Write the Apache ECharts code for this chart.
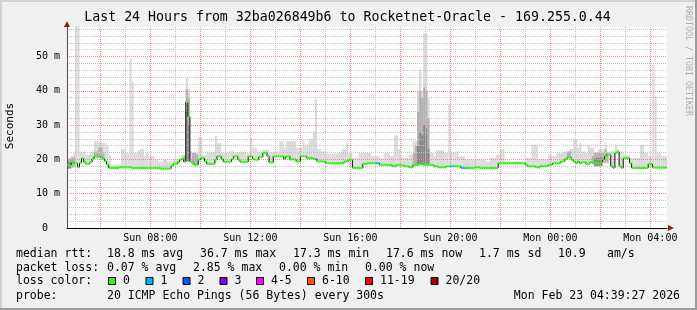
<!DOCTYPE html>
<html><head><meta charset="utf-8">
<script src="https://cdn.jsdelivr.net/npm/echarts@6/dist/echarts.min.js"></script>
<style>html,body{margin:0;padding:0;background:#f0f0f0}#c{width:697px;height:310px}</style>
</head><body><div id="c"></div>
<script>
// ---------------- data ----------------
const titleText = 'Last 24 Hours from 32ba026849b6 to Rocketnet-Oracle - 169.255.0.44';
const yAxisTitle = 'Seconds';
const startMinutes = 4 * 60 + 40;      // Sun 04:40
const stepMinutes = 5;                 // 300 s
const sampleCount = 288;
const xTickLabels = ['Sun 08:00', 'Sun 12:00', 'Sun 16:00', 'Sun 20:00', 'Mon 00:00', 'Mon 04:00'];
const yMax = 58.6;

// median rtt (ms) per 5-minute sample
const median = [
 18.4,18.3,19.3,18.9,18.9,17.7,19.0,20.3,19.2,18.7,
 18.7,19.2,20.1,20.9,20.9,20.9,20.6,20.2,19.5,18.5,
 17.5,17.5,17.5,17.5,17.5,17.7,17.7,17.7,17.7,17.7,
 17.7,17.5,17.5,17.5,17.5,17.5,17.5,17.5,17.5,17.5,
 17.5,17.5,17.5,17.5,17.5,17.3,17.3,17.3,17.3,17.3,
 18.2,18.7,18.7,19.2,19.9,20.2,19.3,36.7,32.5,19.4,
 18.9,18.4,18.4,19.9,20.4,20.4,19.4,18.7,18.7,18.7,
 18.7,19.9,20.9,20.9,20.1,19.3,19.3,19.3,19.3,20.1,
 20.9,20.9,19.9,19.3,19.3,19.3,19.3,20.9,20.9,20.1,
 19.9,19.9,20.7,20.7,21.9,21.9,20.9,19.1,19.1,20.9,
 20.9,20.9,20.9,20.9,20.1,20.9,20.9,20.0,20.0,20.0,
 19.4,19.4,20.9,20.9,20.9,20.4,20.4,20.4,20.1,20.1,
 19.4,19.4,19.4,19.4,18.9,18.9,18.9,18.9,18.9,18.9,
 18.9,18.9,18.9,19.4,19.4,19.9,19.9,17.5,17.5,17.5,
 17.5,17.5,18.7,18.7,18.9,18.9,18.9,18.9,18.9,18.9,
 18.4,18.4,18.4,18.4,18.4,18.4,18.0,18.0,18.4,18.4,
 18.2,18.2,18.0,18.0,17.7,17.7,18.4,18.4,18.4,18.6,
 18.6,18.4,18.4,18.4,18.4,18.4,18.0,18.0,17.7,17.7,
 17.7,17.7,18.0,18.0,18.0,18.0,18.0,18.0,18.0,17.5,
 17.5,17.5,17.5,17.5,17.5,17.5,17.7,17.7,17.5,17.5,
 17.5,17.5,17.5,17.5,17.5,17.5,17.5,18.9,18.9,18.9,
 18.9,18.9,18.9,18.9,18.9,18.9,18.9,18.9,18.9,18.9,
 18.4,18.0,18.0,18.0,18.0,17.7,17.7,18.0,18.0,18.0,
 18.0,18.4,18.4,18.9,18.9,18.9,18.9,19.4,19.4,20.1,
 20.6,20.6,19.9,19.4,18.9,19.4,18.9,19.2,19.2,18.7,
 18.7,19.2,19.2,18.9,18.9,18.9,19.2,19.9,20.9,21.4,
 21.4,18.0,17.5,21.9,22.2,18.0,17.5,20.4,20.4,20.4,
 18.9,17.5,17.5,17.5,17.5,17.5,17.5,17.5,17.5,18.7,
 18.7,17.6,17.6,17.6,17.6,17.6,17.6,17.6
];

// top of the light smoke (ms) per sample
const smokeHi = [
 20.5,20.5,21.0,22.0,58.7,58.7,22.3,22.3,22.3,21.4,
 21.4,22.3,22.3,25.3,25.3,25.0,25.0,24.8,24.8,24.0,
 21.4,18.5,18.5,18.5,18.5,18.5,23.0,23.0,21.9,21.9,
 49.3,42.8,21.9,21.9,22.6,23.0,23.0,20.9,22.3,20.9,
 20.9,20.9,19.9,19.9,19.4,19.4,19.9,19.9,19.4,19.4,
 19.4,20.2,20.2,20.2,20.2,21.4,21.4,43.8,40.5,22.3,
 21.9,21.9,21.9,26.5,26.5,21.4,21.4,22.3,22.3,22.3,
 22.3,26.9,24.8,24.8,22.0,22.0,22.0,22.0,22.6,22.6,
 21.9,21.9,21.9,22.3,22.3,22.3,21.9,21.9,26.3,23.4,
 23.4,22.3,22.3,22.3,22.8,22.8,22.8,22.1,22.1,22.1,
 22.3,22.3,25.3,25.3,23.4,25.3,25.3,25.3,25.3,25.3,
 23.4,23.4,23.4,25.3,24.3,24.3,26.0,26.0,28.3,37.6,
 23.0,23.0,22.3,22.3,21.7,21.7,21.7,21.7,21.7,21.7,
 21.9,21.9,23.0,23.0,24.8,21.9,21.9,20.4,20.4,20.4,
 21.9,21.9,21.9,21.9,21.9,21.9,20.9,20.9,20.9,20.9,
 20.4,20.4,21.9,21.9,21.9,20.9,20.9,27.0,27.0,23.0,
 20.4,20.4,20.4,20.4,21.4,21.4,25.3,25.3,40.0,46.1,
 40.0,56.8,56.8,38.0,21.9,21.9,20.9,22.6,22.6,22.6,
 22.6,21.9,21.9,36.2,22.3,22.3,22.3,22.3,20.9,20.9,
 20.9,19.9,19.9,19.9,19.9,19.9,19.9,19.9,19.9,19.9,
 19.9,19.4,19.4,20.4,20.4,20.4,21.4,21.4,23.0,23.0,
 19.4,19.4,19.4,19.4,19.4,19.4,19.4,19.4,19.4,19.4,
 20.4,20.4,20.4,24.3,24.3,24.3,20.0,20.0,20.0,20.0,
 20.0,21.4,21.4,20.9,20.9,21.9,21.9,21.9,22.3,22.3,
 22.3,23.0,23.0,26.0,26.0,23.4,24.8,22.3,22.3,21.9,
 24.3,23.4,23.4,21.9,21.9,23.0,23.0,23.0,24.8,22.3,
 22.3,22.5,22.5,24.3,23.0,22.3,22.3,21.4,21.4,21.4,
 20.4,20.4,20.4,20.4,20.4,24.3,24.3,21.9,21.9,20.9,
 20.9,47.6,38.4,21.9,21.9,20.9,20.9,20.9
];

// denser smoke: [sample, low, high]
const midSmoke = [
 [0,17.2,20.0],[1,17.2,20.0],[2,17.5,20.5],[3,17.8,20.5],
 [13,20.5,22.3],[14,20.5,22.3],[15,20.5,23.5],[16,20.5,23.5],[17,20.0,22.0],
 [56,19.3,21.0],[57,19.3,40.5],[58,19.3,38.0],
 [60,18.5,21.9],[61,18.3,21.9],[62,18.3,21.5],
 [166,18.4,22.0],[167,18.4,24.0],[168,18.4,34.0],[169,18.5,40.0],[170,18.5,38.0],
 [171,18.4,41.0],[172,18.4,40.0],[173,18.4,32.0],
 [240,20.5,22.3],[241,20.5,22.3],
 [252,18.5,21.0],[253,18.5,22.0],[254,18.5,22.0],[255,18.5,22.0],[256,18.5,22.0],
 [257,19.0,22.0],[258,19.0,23.0],[259,19.0,22.0]
];
const darkSmoke = [
 [0,17.3,19.3],[1,17.5,19.0],
 [57,19.5,34.0],[58,19.5,30.0],
 [168,18.6,24.0],[169,18.6,28.0],[170,18.6,27.0],[171,18.6,30.0],[172,18.6,29.0],[173,18.6,23.0],
 [253,18.0,20.3],[254,18.0,20.5],[255,18.0,20.5],[256,18.0,20.5]
];

// samples with 1/20 packet loss (others 0)
const lossOneSamples = [119,148,149,184,185,189,190];

const lossLegendLabels = ['0', '1', '2', '3', '4-5', '6-10', '11-19', '20/20'];
const lossLegendColors = ['#26ff00', '#00b8ff', '#0059ff', '#7e00ff', '#ff00ff', '#ff5500', '#ff0000', '#a10000'];

const rttStats = ['18.8 ms avg', '36.7 ms max', '17.3 ms min', '17.6 ms now', '1.7 ms sd', '10.9', 'am/s'];
const lossStats = ['0.07 % avg', '2.85 % max', '0.00 % min', '0.00 % now'];
const probeText = '20 ICMP Echo Pings (56 Bytes) every 300s';
const stampText = 'Mon Feb 23 04:39:27 2026';

// ---------------- chart ----------------
const mono = '"DejaVu Sans Mono", monospace';
const categories = [];
for (let k = 0; k <= sampleCount; k++) {
  const m = startMinutes + k * stepMinutes;
  const day = m >= 1440 ? 'Mon' : 'Sun';
  const mm = m % 1440;
  categories.push(day + ' ' + String(Math.floor(mm / 60)).padStart(2, '0') + ':' + String(mm % 60).padStart(2, '0'));
}
const minuteOf = i => startMinutes + i * stepMinutes;
const isEvenHour = i => minuteOf(i) % 120 === 0;
const isOddHour = i => minuteOf(i) % 60 === 0 && minuteOf(i) % 120 !== 0;

const RED = '#ea9090';
const GRAY = '#c4c4c4';

function bandRenderer(color) {
  return function (params, api) {
    const i = api.value(0);
    const top = api.coord([i, api.value(2)]);
    const bot = api.coord([i, api.value(1)]);
    const nxt = api.coord([i + 1, api.value(1)]);
    return { type: 'rect', shape: { x: top[0], y: top[1], width: nxt[0] - top[0], height: bot[1] - top[1] }, style: { fill: color } };
  };
}

const lightData = median.map((m, i) => [i, m, smokeHi[i]]);
const lineData = median.map((m, i) => [i, m, lossOneSamples.includes(i) ? 1 : 0, i + 1 < median.length ? median[i + 1] : m]);

const elements = [];
elements.push({ type: 'rect', shape: { x: 0, y: 0, width: 697, height: 2 }, style: { fill: '#d2d2d2' }, silent: true });
elements.push({ type: 'rect', shape: { x: 0, y: 0, width: 2, height: 310 }, style: { fill: '#d2d2d2' }, silent: true });
elements.push({ type: 'rect', shape: { x: 0, y: 308, width: 697, height: 2 }, style: { fill: '#9c9c9c' }, silent: true });
elements.push({ type: 'rect', shape: { x: 695, y: 0, width: 2, height: 310 }, style: { fill: '#9c9c9c' }, silent: true });
function txt(text, x, y, size, align, color) {
  return { type: 'text', x: x, y: y, silent: true, z: 10,
    style: { text: text, font: size + 'px ' + mono, fill: color || '#000', align: align || 'left', verticalAlign: 'middle', textAlign: align || 'left', textVerticalAlign: 'middle' } };
}
elements.push(txt(titleText, 347.5, 18, 13.25, 'center'));
const yTitle = txt(yAxisTitle, 10.5, 126, 11, 'center');
yTitle.rotation = Math.PI / 2;
elements.push(yTitle);
elements.push({ type: 'text', x: 688, y: 6, rotation: -Math.PI / 2, silent: true,
  style: { text: 'RRDTOOL / TOBI OETIKER', font: '8.3px ' + mono, fill: '#b0b0b0', align: 'left', verticalAlign: 'middle', textAlign: 'left', textVerticalAlign: 'middle' } });
// arrows
elements.push({ type: 'polygon', shape: { points: [[64, 27], [70, 27], [67, 21]] }, style: { fill: '#a01818' }, z: 10 });
elements.push({ type: 'polygon', shape: { points: [[668, 225], [668, 231], [674, 228]] }, style: { fill: '#a01818' }, z: 10 });
// legend text
const fs = 11.5;
const rowY = [254, 268, 281.5, 296];
elements.push(txt('median rtt:', 16, rowY[0], fs));
const rttX = [107, 200, 293, 386, 479, 558, 607];
rttStats.forEach((s, k) => elements.push(txt(s, rttX[k], rowY[0], fs)));
elements.push(txt('packet loss:', 16, rowY[1], fs));
const lossX = [107, 193, 279, 365];
lossStats.forEach((s, k) => elements.push(txt(s, lossX[k], rowY[1], fs)));
elements.push(txt('loss color:', 16, rowY[2], fs));
const boxX = [108, 145.5, 182.5, 219.5, 256, 307, 365, 430.5];
lossLegendLabels.forEach((lab, k) => {
  elements.push({ type: 'rect', shape: { x: boxX[k] + 0.5, y: 277.5, width: 7, height: 7 }, style: { fill: lossLegendColors[k], stroke: '#000', lineWidth: 1 }, z: 10 });
  elements.push(txt(lab, boxX[k] + 15, rowY[2], fs));
});
elements.push(txt('probe:', 16, rowY[3], fs));
elements.push(txt(probeText, 107, rowY[3], fs));
elements.push(txt(stampText, 680, rowY[3], fs, 'right'));

const option = {
  animation: false,
  backgroundColor: '#f0f0f0',
  grid: { left: 67, right: 30, top: 27, bottom: 82, show: true, backgroundColor: '#ffffff', borderWidth: 0,
          containLabel: false, outerBoundsMode: 'none' },
  xAxis: [
    { type: 'category', data: categories, boundaryGap: false, position: 'bottom', z: 3,
      axisLine: { show: true, lineStyle: { color: '#000', width: 1 } },
      axisTick: { show: false },
      axisLabel: { interval: (i, v) => xTickLabels.includes(v), fontFamily: mono, fontSize: 10, color: '#000', margin: 5 },
      splitLine: { show: true, interval: (i) => isEvenHour(i), lineStyle: { color: RED, width: 1, type: [1, 1] } } },
    { type: 'category', data: categories, boundaryGap: false, position: 'bottom', z: 2,
      axisLine: { show: false }, axisTick: { show: false }, axisLabel: { show: false },
      splitLine: { show: true, interval: (i) => isOddHour(i), lineStyle: { color: GRAY, width: 1, type: [1, 1] } } }
  ],
  yAxis: [
    { type: 'value', min: 0, max: yMax, interval: 10, z: 3,
      axisLine: { show: true, lineStyle: { color: '#505050', width: 1 } },
      axisTick: { show: false },
      axisLabel: { fontFamily: mono, fontSize: 10, color: '#000', margin: 7,
        formatter: v => (Math.abs(v % 10) < 1e-9 ? (v === 0 ? '0  ' : v + ' m') : '') },
      splitLine: { show: true, showMinLine: false, showMaxLine: false, lineStyle: { color: RED, width: 1, type: [1, 1] } } },
    { type: 'value', min: 0, max: yMax, interval: 2, z: 2,
      axisLine: { show: false }, axisTick: { show: false }, axisLabel: { show: false },
      splitLine: { show: true, showMaxLine: false, lineStyle: { color: ['rgba(0,0,0,0)', GRAY, GRAY, GRAY, GRAY], width: 1, type: [1, 1] } } }
  ],
  series: [
    { type: 'custom', name: 'smoke', z: 1, data: lightData, encode: { x: 0, y: [1, 2] }, renderItem: bandRenderer('#dadada'), silent: true },
    { type: 'custom', name: 'smoke2', z: 1, data: midSmoke, encode: { x: 0, y: [1, 2] }, renderItem: bandRenderer('#b2b2b2'), silent: true },
    { type: 'custom', name: 'smoke3', z: 1, data: darkSmoke, encode: { x: 0, y: [1, 2] }, renderItem: bandRenderer('#8a8a8a'), silent: true },
    { type: 'custom', name: 'median', z: 5, data: lineData, encode: { x: 0, y: 1 }, silent: true,
      renderItem: function (params, api) {
        const i = api.value(0);
        const p = api.coord([i, api.value(1)]);
        const q = api.coord([i + 1, api.value(1)]);
        const r = api.coord([i + 1, api.value(3)]);
        return { type: 'group', children: [
          { type: 'line', shape: { x1: q[0], y1: q[1], x2: r[0], y2: r[1] }, style: { stroke: '#111', lineWidth: 1 } },
          { type: 'line', shape: { x1: p[0], y1: p[1], x2: q[0], y2: q[1] }, style: { stroke: lossLegendColors[api.value(2)], lineWidth: 2 } }
        ] };
      } }
  ],
  graphic: { elements: elements }
};
const chart = echarts.init(document.getElementById('c'), null, { width: 697, height: 310 });
chart.setOption(option);
</script></body></html>
